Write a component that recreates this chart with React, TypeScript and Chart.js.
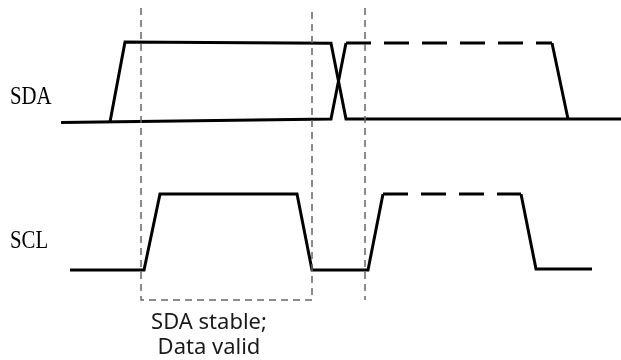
import React, { useEffect, useRef } from "react";
import { Chart, registerables } from "chart.js";

Chart.register(...registerables);

// Diagram units: x = time, y = signal level (drawn top-down)
// SDA: first bit (solid high, then fall)
const sdaBit1Time = [110, 125, 331, 346, 621];
const sdaBit1Level = [122, 42, 43.3, 119, 119];
// SDA: low line, then rise for the next bit
const sdaLowTime = [61, 331, 346];
const sdaLowLevel = [122.5, 119, 43];
// SDA: next bit (dashed high) and its fall
const sdaNextTime = [346, 552];
const sdaNextLevel = [43, 43];
const sdaFallTime = [552, 568];
const sdaFallLevel = [43, 119];

// SCL: clock pulse (solid), then dashed high, then fall
const sclTime = [70, 144, 160, 297, 312, 368, 383];
const sclLevel = [270, 270, 194, 194, 270, 270, 194];
const sclNextTime = [383, 521];
const sclNextLevel = [194, 194];
const sclFallTime = [521, 536, 592];
const sclFallLevel = [194, 269, 269];

// Guide lines (valid window box and the next edge)
const boxTime = [141, 141, 312, 312];
const boxLevel = [8, 300, 300, 8];
const guideTime = [365, 365];
const guideLevel = [8, 300];

// Texts
const signalNames = ["SDA", "SCL"];
const signalNameTime = [10, 10];
const signalNameLevel = [104, 248];
const noteLines = ["SDA stable;", "Data valid"];
const noteTime = [209, 209];
const noteLevel = [329, 354];

const pts = (t: number[], v: number[]) => t.map((x, i) => ({ x, y: v[i] }));

const textPlugin = {
  id: "diagramText",
  afterDraw(chart: any) {
    const ctx = chart.ctx as CanvasRenderingContext2D;
    const xs = chart.scales.x;
    const ys = chart.scales.y;
    ctx.save();
    ctx.fillStyle = "#000";
    ctx.textBaseline = "alphabetic";
    ctx.textAlign = "left";
    ctx.font = '26px "Liberation Serif"';
    signalNames.forEach((s, i) => {
      ctx.save();
      ctx.translate(xs.getPixelForValue(signalNameTime[i]), ys.getPixelForValue(signalNameLevel[i]));
      ctx.scale(0.8, 1);
      ctx.fillText(s, 0, 0);
      ctx.restore();
    });
    ctx.fillStyle = "#1a1a1a";
    ctx.textAlign = "center";
    ctx.font = '22px "Noto Sans"';
    noteLines.forEach((s, i) => {
      ctx.fillText(s, xs.getPixelForValue(noteTime[i]), ys.getPixelForValue(noteLevel[i]));
    });
    ctx.restore();
  },
};

export default function App() {
  const ref = useRef<HTMLCanvasElement>(null);
  useEffect(() => {
    if (!ref.current) return;
    const black = { borderColor: "#000", borderWidth: 3, pointRadius: 0, showLine: true, fill: false, tension: 0 };
    const gray = { borderColor: "#666", borderWidth: 1.5, pointRadius: 0, showLine: true, fill: false, tension: 0, borderDash: [7, 5] };
    const chart = new Chart(ref.current, {
      type: "scatter",
      data: {
        datasets: [
          { ...gray, data: pts(boxTime, boxLevel) },
          { ...gray, data: pts(guideTime, guideLevel) },
          { ...black, data: pts(sdaLowTime, sdaLowLevel) },
          { ...black, data: pts(sdaBit1Time, sdaBit1Level) },
          { ...black, data: pts(sdaNextTime, sdaNextLevel), borderDash: [25, 13] },
          { ...black, data: pts(sdaFallTime, sdaFallLevel) },
          { ...black, data: pts(sclTime, sclLevel) },
          { ...black, data: pts(sclNextTime, sclNextLevel), borderDash: [25, 13] },
          { ...black, data: pts(sclFallTime, sclFallLevel) },
        ] as any,
      },
      options: {
        animation: false,
        responsive: false,
        devicePixelRatio: 1,
        layout: { padding: 0 },
        plugins: { legend: { display: false }, tooltip: { enabled: false } },
        events: [],
        scales: {
          x: { type: "linear", min: 0, max: 621, display: false },
          y: { type: "linear", min: 0, max: 360, reverse: true, display: false },
        },
      },
      plugins: [textPlugin],
    });
    return () => chart.destroy();
  }, []);
  return (
    <div style={{ position: "absolute", left: 0, top: 0, width: 621, height: 360, background: "#fff" }}>
      <canvas ref={ref} width={621} height={360} />
    </div>
  );
}
